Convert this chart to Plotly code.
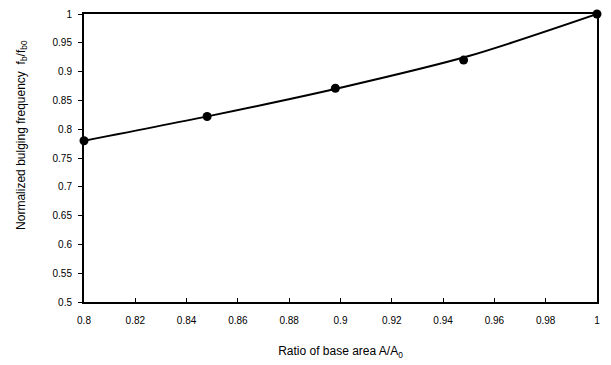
import plotly.graph_objects as go

# Measured points
area_ratio = [0.8, 0.848, 0.898, 0.948, 1.0]
freq_ratio = [0.78, 0.822, 0.871, 0.92, 1.0]

# Smooth trend curve
curve_x = [0.8, 0.85, 0.9, 0.95, 1.0]
curve_y = [0.78, 0.824, 0.872, 0.927, 1.0]

x_ticks = [0.8, 0.82, 0.84, 0.86, 0.88, 0.9, 0.92, 0.94, 0.96, 0.98, 1.0]
x_tick_text = ["0.8", "0.82", "0.84", "0.86", "0.88", "0.9", "0.92", "0.94", "0.96", "0.98", "1"]
y_ticks = [0.5, 0.55, 0.6, 0.65, 0.7, 0.75, 0.8, 0.85, 0.9, 0.95, 1.0]
y_tick_text = ["0.5", "0.55", "0.6", "0.65", "0.7", "0.75", "0.8", "0.85", "0.9", "0.95", "1"]

fig = go.Figure()
fig.add_trace(go.Scatter(
    x=curve_x, y=curve_y, mode="lines",
    line=dict(color="black", width=2, shape="spline", smoothing=0.8),
    hoverinfo="skip", showlegend=False,
))
fig.add_trace(go.Scatter(
    x=area_ratio, y=freq_ratio, mode="markers",
    marker=dict(color="black", size=9),
    showlegend=False, cliponaxis=False,
))

font = dict(family="Liberation Sans, Arial, sans-serif", size=10, color="black")

fig.update_layout(
    width=611, height=365,
    margin=dict(l=84, r=14, t=8, b=63),
    paper_bgcolor="white", plot_bgcolor="white",
    font=font,
    xaxis=dict(
        range=[0.8, 1.0], tickvals=x_ticks, ticktext=x_tick_text,
        showline=True, linecolor="black", linewidth=2, mirror=True,
        ticks="inside", ticklen=4, tickcolor="black", showgrid=False, zeroline=False,
        ticklabelstandoff=8,
        title=dict(text="Ratio of base area A/A<sub>0</sub>", standoff=22),
    ),
    yaxis=dict(
        range=[0.5, 1.0], tickvals=y_ticks, ticktext=y_tick_text,
        showline=True, linecolor="black", linewidth=2, mirror=True,
        ticks="outside", ticklen=4, tickcolor="black", showgrid=False, zeroline=False,
        ticklabelstandoff=4,
    ),
)

# Vertical axis title, placed a little above the axis midpoint
fig.add_annotation(
    text="Normalized bulging frequency  f<sub>b</sub>/f<sub>b0</sub>",
    xref="paper", yref="paper", x=-0.121, y=0.58,
    xanchor="center", yanchor="middle", textangle=-90,
    showarrow=False, font=dict(size=12),
)

fig.write_html("out.html")
